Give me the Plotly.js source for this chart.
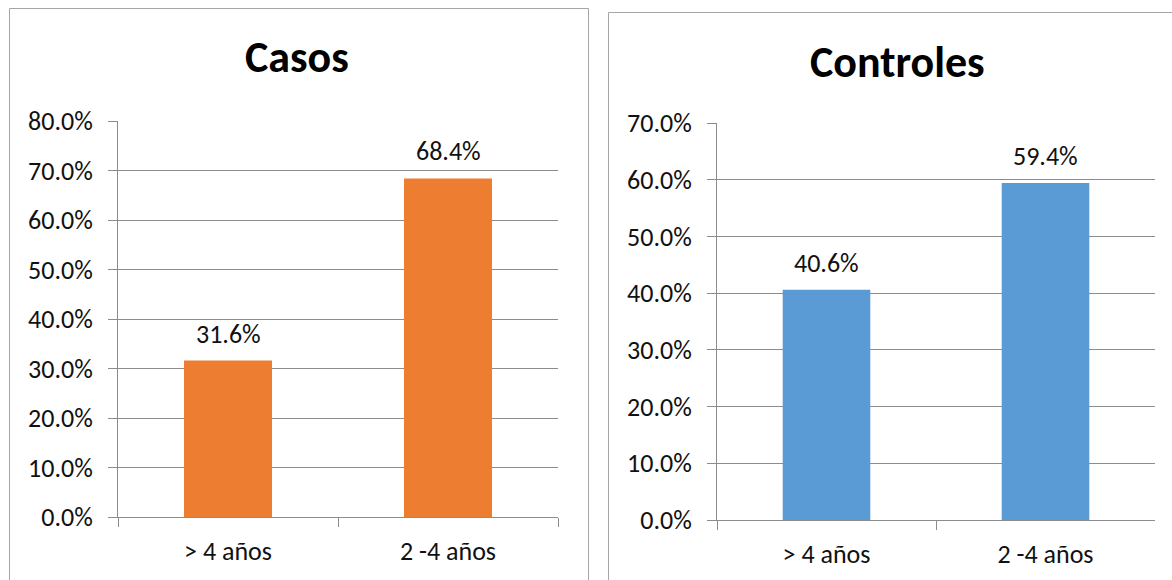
<!DOCTYPE html>
<html>
<head>
<meta charset="utf-8">
<script src="https://cdn.plot.ly/plotly-3.0.1.min.js"></script>
<style>
  html, body { margin: 0; padding: 0; background: #fff; }
  #chart { width: 1172px; height: 580px; }
</style>
</head>
<body>
<div id="chart"></div>
<script>
// Age groups and the share of each group, for cases and controls
const categories = ['> 4 años', '2 -4 años'];
const casosValues = [0.316, 0.684];
const controlesValues = [0.406, 0.594];
const panelTitles = ['Casos', 'Controles'];

const W = 1172, H = 580;
const FONT = 'Carlito, Calibri, "Open Sans", sans-serif';
const TEXT = '#111111';
const GRID = '#8c8c8c';
const BORDER = '#a6a6a6';
const LABEL_SIZE = 26;

const px = v => v / W;
const py = v => (H - v) / H;

const traces = [
  {
    type: 'bar', x: categories, y: casosValues,
    xaxis: 'x', yaxis: 'y',
    marker: { color: '#ED7D31' }, width: 0.4,
    hoverinfo: 'skip'
  },
  {
    type: 'bar', x: categories, y: controlesValues,
    xaxis: 'x2', yaxis: 'y2',
    marker: { color: '#5B9BD5' }, width: 0.4,
    hoverinfo: 'skip'
  }
];

function yAxis(range, domain, anchor) {
  return {
    domain: domain, range: range, anchor: anchor,
    tickformat: '.1%', dtick: 0.1,
    showgrid: true, gridcolor: GRID, gridwidth: 1,
    showline: true, linecolor: GRID, linewidth: 1,
    ticks: 'outside', ticklen: 9, tickcolor: GRID,
    ticklabelstandoff: 10,
    tickfont: { family: FONT, size: LABEL_SIZE, color: TEXT },
    zeroline: false, fixedrange: true
  };
}
function xAxis(domain, anchor) {
  return {
    domain: domain, anchor: anchor,
    type: 'category',
    showline: true, linecolor: GRID, linewidth: 1,
    ticks: 'outside', tickson: 'boundaries', ticklen: 9, tickcolor: GRID,
    ticklabelstandoff: 11,
    tickfont: { family: FONT, size: LABEL_SIZE, color: TEXT },
    showgrid: false, fixedrange: true
  };
}

// Value labels above each bar
const annotations = [];
[[casosValues, 'x', 'y'], [controlesValues, 'x2', 'y2']].forEach(([vals, xa, ya]) => {
  vals.forEach((v, i) => {
    annotations.push({
      xref: xa, yref: ya, x: categories[i], y: v,
      text: (v * 100).toFixed(1) + '%',
      showarrow: false, yanchor: 'bottom', yshift: 9,
      font: { family: FONT, size: LABEL_SIZE, color: TEXT }
    });
  });
});

// Panel titles
annotations.push({
  xref: 'paper', yref: 'paper', x: px(297), y: py(57),
  text: '<b>' + panelTitles[0] + '</b>', showarrow: false,
  xanchor: 'center', yanchor: 'middle',
  font: { family: FONT, size: 44, color: '#000' }
});
annotations.push({
  xref: 'paper', yref: 'paper', x: px(897), y: py(62),
  text: '<b>' + panelTitles[1] + '</b>', showarrow: false,
  xanchor: 'center', yanchor: 'middle',
  font: { family: FONT, size: 44, color: '#000' }
});

// Chart-area frames around each panel
const shapes = [
  { type: 'rect', xref: 'paper', yref: 'paper',
    x0: px(9.5), x1: px(588.5), y0: py(600), y1: py(8.5),
    line: { color: BORDER, width: 1 }, layer: 'below' },
  { type: 'rect', xref: 'paper', yref: 'paper',
    x0: px(608.5), x1: px(1190), y0: py(600), y1: py(12.5),
    line: { color: BORDER, width: 1 }, layer: 'below' }
];

const layout = {
  width: W, height: H,
  margin: { l: 0, r: 0, t: 0, b: 0 },
  paper_bgcolor: '#fff', plot_bgcolor: 'rgba(0,0,0,0)',
  showlegend: false,
  xaxis: xAxis([px(118), px(558)], 'y'),
  yaxis: yAxis([0, 0.8], [py(517), py(121)], 'x'),
  xaxis2: xAxis([px(717), px(1155)], 'y2'),
  yaxis2: yAxis([0, 0.7], [py(520), py(123)], 'x2'),
  annotations: annotations,
  shapes: shapes
};

Plotly.newPlot('chart', traces, layout, { staticPlot: true, displayModeBar: false });
</script>
</body>
</html>
